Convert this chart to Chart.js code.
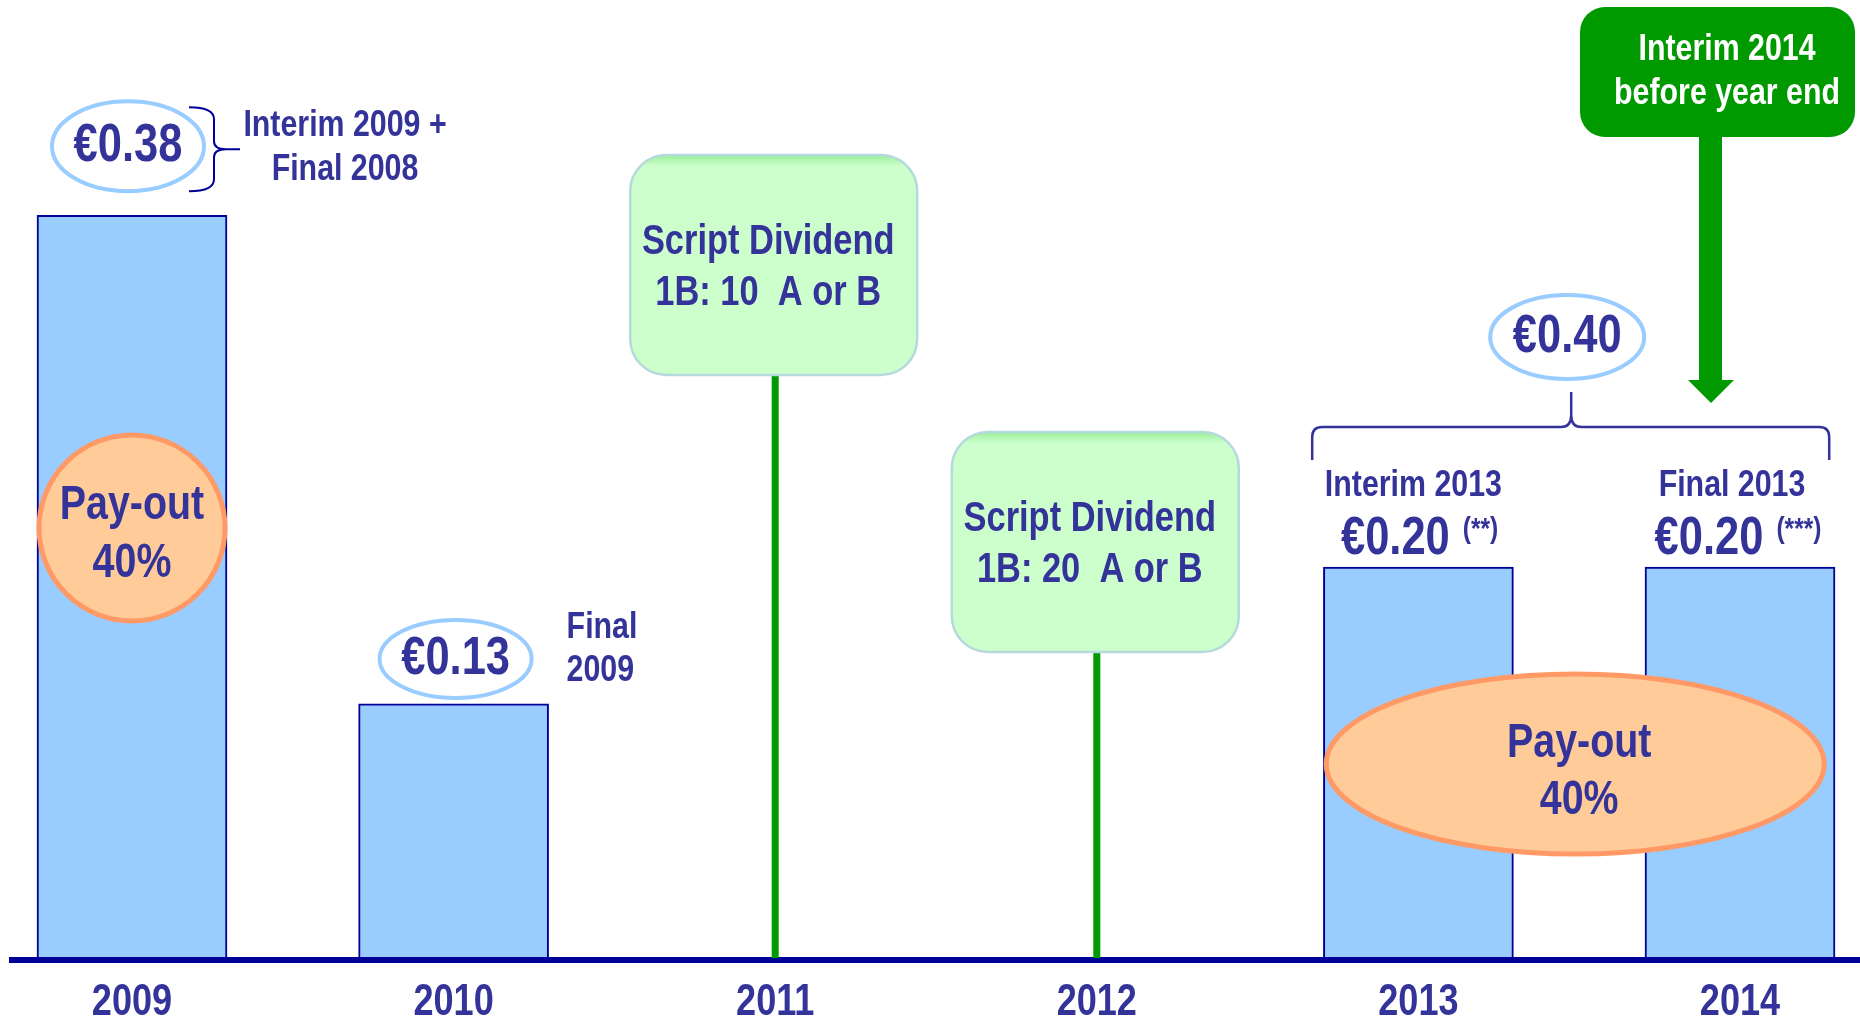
<!DOCTYPE html>
<html>
<head>
<meta charset="utf-8">
<script src="https://cdn.jsdelivr.net/npm/chart.js@4.4.1/dist/chart.umd.min.js"></script>
<style>
  html, body { margin: 0; padding: 0; background: #fff; }
  #wrap { width: 1860px; height: 1018px; }
</style>
</head>
<body>
<div id="wrap"><canvas id="dividendChart"></canvas></div>
<script>
// dados do gráfico
const years = ['2009', '2010', '2011', '2012', '2013', '2014'];
const dividend = [0.38, 0.13, 0, 0, 0.20, 0.20];
const valueLabels = ['€0.38', '€0.13', '', '', '€0.20', '€0.20'];
const valueNotes = ['', '', '', '', '(**)', '(***)'];
const scriptLines = [[], [], ['Script Dividend', '1B: 10  A or B'], ['Script Dividend', '1B: 20  A or B'], [], []];
const totalLabel = '€0.40';
const payoutLines = ['Pay-out', '40%'];

const ink = '#333399';
const navy = '#000099';
const green = '#009900';
const family = "'Liberation Sans', Arial, sans-serif";
const squeeze = 0.82; // imita Arial Narrow

// texto estreito: Liberation Sans comprimida na horizontal
function txt(ctx, s, x, y, px, color, align) {
    ctx.save();
    ctx.font = 'bold ' + px + 'px ' + family;
    ctx.fillStyle = color || ink;
    ctx.textAlign = align || 'center';
    ctx.textBaseline = 'middle';
    ctx.translate(x, y);
    ctx.scale(squeeze, 1);
    ctx.fillText(s, 0, 0);
    const w = ctx.measureText(s).width * squeeze;
    ctx.restore();
    return w;
}

function ellipse(ctx, x, y, rx, ry, fill, stroke, lw) {
    ctx.beginPath();
    ctx.ellipse(x, y, rx, ry, 0, 0, Math.PI * 2);
    ctx.fillStyle = fill;
    ctx.fill();
    ctx.lineWidth = lw;
    ctx.strokeStyle = stroke;
    ctx.stroke();
}

function roundBox(ctx, x, y, w, h, r) {
    ctx.beginPath();
    ctx.moveTo(x + r, y);
    ctx.arcTo(x + w, y, x + w, y + h, r);
    ctx.arcTo(x + w, y + h, x, y + h, r);
    ctx.arcTo(x, y + h, x, y, r);
    ctx.arcTo(x, y, x + w, y, r);
    ctx.closePath();
}

const annotations = {
    id: 'annotations',
    afterDraw(chart) {
        const ctx = chart.ctx;
        const xs = chart.scales.x;
        const ys = chart.scales.y;
        const meta = chart.getDatasetMeta(0);
        const base = ys.getPixelForValue(0);
        const cx = i => xs.getPixelForValue(i);
        const top = i => meta.data[i].y;
        ctx.save();

        // linha base
        ctx.beginPath();
        ctx.moveTo(9, base + 2);
        ctx.lineTo(chart.width, base + 2);
        ctx.lineWidth = 6;
        ctx.strokeStyle = navy;
        ctx.stroke();

        // rótulos do eixo x
        years.forEach((y, i) => txt(ctx, xs.getLabelForValue(i), cx(i), base + 45, 44));

        // 2009
        let x = cx(0), t = top(0);
        ellipse(ctx, x - 4, t - 69, 76, 45, '#fff', '#99ccff', 4);
        txt(ctx, valueLabels[0], x - 4, t - 69, 53);
        ctx.beginPath();
        const bx = x + 57, bm = x + 82, by0 = t - 108, by1 = t - 24, bym = t - 66;
        ctx.moveTo(bx, by0);
        ctx.quadraticCurveTo(bm, by0, bm, by0 + 12);
        ctx.lineTo(bm, bym - 8);
        ctx.quadraticCurveTo(bm, bym, bm + 12, bym);
        ctx.lineTo(x + 108, bym);
        ctx.moveTo(bm + 12, bym);
        ctx.quadraticCurveTo(bm, bym, bm, bym + 8);
        ctx.lineTo(bm, by1 - 12);
        ctx.quadraticCurveTo(bm, by1, bx, by1);
        ctx.lineWidth = 2;
        ctx.strokeStyle = navy;
        ctx.stroke();
        txt(ctx, 'Interim 2009 +', x + 213, t - 89, 37);
        txt(ctx, 'Final 2008', x + 213, t - 45, 37);
        ellipse(ctx, x, base - 430, 93, 93, '#ffcc99', '#ff9966', 5);
        txt(ctx, payoutLines[0], x, base - 452, 48);
        txt(ctx, payoutLines[1], x, base - 394, 48);

        // 2010
        x = cx(1); t = top(1);
        ellipse(ctx, x + 2, t - 45, 76, 39, '#fff', '#99ccff', 4);
        txt(ctx, valueLabels[1], x + 2, t - 45, 53);
        txt(ctx, 'Final', x + 113, t - 76, 37, ink, 'left');
        txt(ctx, '2009', x + 113, t - 33, 37, ink, 'left');

        // 2011, 2012: caixas de dividendo em ações
        const boxTops = { 2: 155, 3: 432 };
        [2, 3].forEach(i => {
            const sx = cx(i);
            const by = boxTops[i];
            ctx.fillStyle = green;
            ctx.fillRect(sx - 3.5, by + 220, 7, base - by - 220);
            const g = ctx.createLinearGradient(0, by, 0, by + 220);
            g.addColorStop(0, '#99ee99');
            g.addColorStop(0.05, '#ccffcc');
            g.addColorStop(1, '#ccffcc');
            roundBox(ctx, sx - 145, by, 287, 220, 36);
            ctx.fillStyle = g;
            ctx.fill();
            ctx.lineWidth = 2.5;
            ctx.strokeStyle = '#b5d9dc';
            ctx.stroke();
            txt(ctx, scriptLines[i][0], sx - 7, by + 87, 42);
            txt(ctx, scriptLines[i][1], sx - 7, by + 138, 42);
        });

        // 2013, 2014
        const heads = ['Interim 2013', 'Final 2013'];
        const shifts = [[-5, -23], [-8, -31]];
        [4, 5].forEach((i, k) => {
            const px = cx(i), pt = top(i);
            txt(ctx, heads[k], px + shifts[k][0], pt - 81, 37);
            const w = txt(ctx, valueLabels[i], px + shifts[k][1], pt - 28, 53);
            txt(ctx, valueNotes[i], px + shifts[k][1] + w / 2 + 13, pt - 37, 30, ink, 'left');
        });

        const mid = (cx(4) + cx(5)) / 2;
        const bt = top(4);
        const L = mid - 267, R = mid + 250, tip = mid - 8, hy = bt - 140;
        ctx.beginPath();
        ctx.moveTo(L, bt - 107);
        ctx.lineTo(L, hy + 10);
        ctx.quadraticCurveTo(L, hy, L + 10, hy);
        ctx.lineTo(tip - 10, hy);
        ctx.quadraticCurveTo(tip, hy, tip, hy - 12);
        ctx.lineTo(tip, bt - 175);
        ctx.moveTo(tip, hy - 12);
        ctx.quadraticCurveTo(tip, hy, tip + 10, hy);
        ctx.lineTo(R - 10, hy);
        ctx.quadraticCurveTo(R, hy, R, hy + 10);
        ctx.lineTo(R, bt - 107);
        ctx.lineWidth = 2.5;
        ctx.strokeStyle = ink;
        ctx.stroke();
        ellipse(ctx, tip - 4, bt - 230, 77, 42, '#fff', '#99ccff', 4);
        txt(ctx, totalLabel, tip - 4, bt - 230, 53);

        ellipse(ctx, mid - 4, base - 194, 249, 90, '#ffcc99', '#ff9966', 5);
        txt(ctx, payoutLines[0], mid, base - 214, 48);
        txt(ctx, payoutLines[1], mid, base - 157, 48);

        // chamada verde
        const gx = cx(5);
        roundBox(ctx, gx - 160, 7, 275, 130, 25);
        ctx.fillStyle = green;
        ctx.fill();
        txt(ctx, 'Interim 2014', gx - 13, 50, 37, '#fff');
        txt(ctx, 'before year end', gx - 13, 94, 37, '#fff');
        ctx.fillStyle = green;
        ctx.fillRect(gx - 41, 136, 23, 245);
        ctx.beginPath();
        ctx.moveTo(gx - 52, 380);
        ctx.lineTo(gx - 6, 380);
        ctx.lineTo(gx - 29, 403);
        ctx.closePath();
        ctx.fill();

        ctx.restore();
    }
};

const ctx = document.getElementById('dividendChart').getContext('2d');
new Chart(ctx, {
    type: 'bar',
    data: {
        labels: years,
        datasets: [{
            data: dividend,
            backgroundColor: '#99ccff',
            borderColor: navy,
            borderWidth: { top: 2, left: 2, right: 2, bottom: 0 },
            barThickness: 190,
            clip: false
        }]
    },
    options: {
        responsive: true,
        maintainAspectRatio: false,
        animation: false,
        layout: { padding: { left: 132, right: 120, top: 10, bottom: 0 } },
        plugins: { legend: { display: false }, tooltip: { enabled: false } },
        scales: {
            x: {
                offset: false,
                grid: { display: false, drawTicks: false },
                border: { display: false },
                ticks: { display: false },
                afterFit: s => { s.height = 60; }
            },
            y: { display: false, min: 0, max: 0.485 }
        }
    },
    plugins: [annotations]
});
</script>
</body>
</html>
